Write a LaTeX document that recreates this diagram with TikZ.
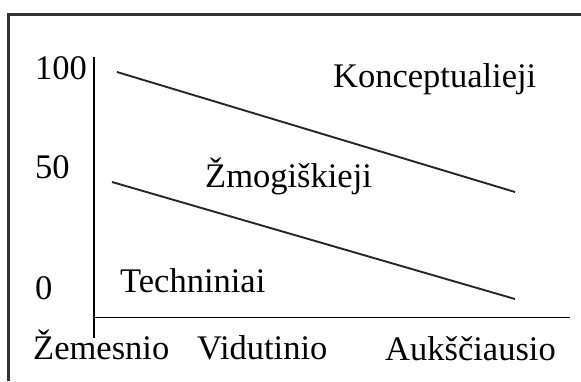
\documentclass[tikz,border=0pt]{standalone}
\usepackage{fontspec}
\setmainfont{Liberation Serif}
\begin{document}
\begin{tikzpicture}[x=1pt,y=-1pt,
  lbl/.style={anchor=base west,inner sep=0pt,font=\fontsize{34.5}{37}\selectfont},
  axis/.style={line width=1.7pt,black},
  trend/.style={line width=1.9pt,black!85}]
\useasboundingbox (0,0) rectangle (581,381);
% frame (open to the right and below)
\draw[line width=2.2pt,black!80] (8.5,381) -- (8.5,14.5) -- (581,14.5);
% axes
\coordinate (ytop) at (94,57);
\coordinate (ybot) at (94,338);
\coordinate (xl) at (94,317.5);
\coordinate (xr) at (570,317.5);
\draw[axis] (ytop) -- (ybot);
\draw[axis] (xl) -- (xr);
% trend lines
\coordinate (a1) at (117,72);
\coordinate (a2) at (515,192);
\coordinate (b1) at (112,182);
\coordinate (b2) at (515,299);
\draw[trend] (a1) -- (a2);
\draw[trend] (b1) -- (b2);
% y labels
\node[lbl] (y100) at (35,79) {100};
\node[lbl] (y50) at (35,178) {50};
\node[lbl] (y0) at (35,299) {0};
% region labels
\node[lbl] (konc) at (333,87) {Konceptualieji};
\node[lbl] (zmog) at (205,187) {Žmogiškieji};
\node[lbl] (tech) at (120,292) {Techniniai};
% x labels
\node[lbl] (zem) at (33,359) {Žemesnio};
\node[lbl] (vid) at (197,359) {Vidutinio};
\node[lbl] (auk) at (385,360) {Aukščiausio};
\end{tikzpicture}
\end{document}
